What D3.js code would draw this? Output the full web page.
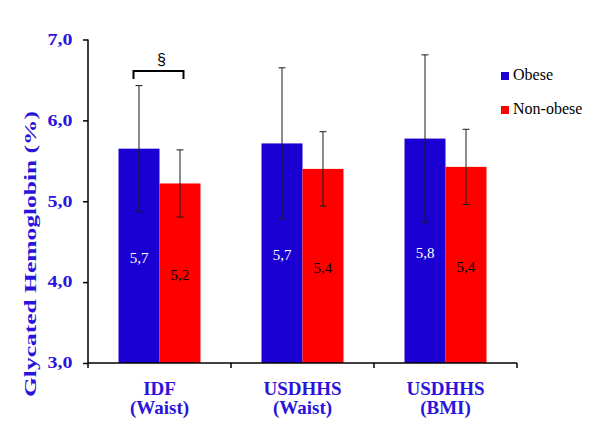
<!DOCTYPE html>
<html>
<head>
<meta charset="utf-8">
<script src="https://cdn.jsdelivr.net/npm/d3@7"></script>
<style>
  html, body { margin: 0; padding: 0; background: #fff; }
  svg { display: block; }
</style>
</head>
<body>
<div id="chart"></div>
<script>
// ---- data ----
const categories = [["IDF", "(Waist)"], ["USDHHS", "(Waist)"], ["USDHHS", "(BMI)"]];
const seriesNames = ["Obese", "Non-obese"];
const obeseMeans = [5.65, 5.715, 5.775];
const obeseSD = [0.78, 0.935, 1.035];
const nonObeseMeans = [5.22, 5.40, 5.425];
const nonObeseSD = [0.415, 0.46, 0.465];
const obeseLabels = ["5,7", "5,7", "5,8"];
const nonObeseLabels = ["5,2", "5,4", "5,4"];
const yTicks = [3, 4, 5, 6, 7];
const yTickLabels = ["3,0", "4,0", "5,0", "6,0", "7,0"];
const yTitle = "Glycated Hemoglobin (%)";
const bracketText = "§";

const W = 600, H = 435;
const blue = "#1a00d2", red = "#ff0000", textBlue = "#2a14dc";
const serif = "'Liberation Serif', 'Times New Roman', serif";

const svg = d3.select("#chart").append("svg").attr("width", W).attr("height", H);

const catKeys = categories.map(c => c.join(" "));
const x0 = d3.scaleBand().domain(catKeys).range([88, 517]).padding(0);
const x1 = d3.scaleBand().domain(seriesNames).range([0, x0.bandwidth()]).paddingInner(0).paddingOuter(0.744);
const y = d3.scaleLinear().domain([3, 7]).range([363, 39.5]);

const rows = catKeys.map((k, i) => ({
  key: k,
  vals: [
    { s: "Obese", m: obeseMeans[i], sd: obeseSD[i], lab: obeseLabels[i], color: blue, tcolor: "#ffffff" },
    { s: "Non-obese", m: nonObeseMeans[i], sd: nonObeseSD[i], lab: nonObeseLabels[i], color: red, tcolor: "#000000" }
  ]
}));

// bars
const g = svg.append("g");
const grp = g.selectAll("g.cat").data(rows).join("g").attr("class", "cat")
  .attr("transform", d => `translate(${x0(d.key)},0)`);

grp.selectAll("rect").data(d => d.vals).join("rect")
  .attr("x", d => x1(d.s))
  .attr("y", d => y(d.m))
  .attr("width", x1.bandwidth())
  .attr("height", d => y(3) - y(d.m))
  .attr("fill", d => d.color);

// value labels
grp.selectAll("text.val").data(d => d.vals).join("text").attr("class", "val")
  .attr("x", d => x1(d.s) + x1.bandwidth() / 2)
  .attr("y", d => (y(d.m) + y(3)) / 2 + 7)
  .attr("text-anchor", "middle")
  .attr("font-family", serif)
  .attr("font-size", 15)
  .attr("fill", d => d.tcolor)
  .text(d => d.lab);

// error bars
const eb = grp.selectAll("g.err").data(d => d.vals).join("g").attr("class", "err")
  .attr("stroke", "#1a1a1a").attr("stroke-width", 1);
eb.append("line")
  .attr("x1", d => x1(d.s) + x1.bandwidth() / 2).attr("x2", d => x1(d.s) + x1.bandwidth() / 2)
  .attr("y1", d => y(d.m + d.sd)).attr("y2", d => y(d.m - d.sd));
eb.append("line")
  .attr("x1", d => x1(d.s) + x1.bandwidth() / 2 - 3.5).attr("x2", d => x1(d.s) + x1.bandwidth() / 2 + 3.5)
  .attr("y1", d => y(d.m + d.sd)).attr("y2", d => y(d.m + d.sd));
eb.append("line")
  .attr("x1", d => x1(d.s) + x1.bandwidth() / 2 - 3.5).attr("x2", d => x1(d.s) + x1.bandwidth() / 2 + 3.5)
  .attr("y1", d => y(d.m - d.sd)).attr("y2", d => y(d.m - d.sd));

// y axis
const yAxis = svg.append("g").attr("transform", "translate(88,0)")
  .call(d3.axisLeft(y).tickValues(yTicks).tickSize(5).tickFormat((d, i) => yTickLabels[i]));
yAxis.select(".domain").attr("stroke", "#000").attr("stroke-width", 1.5).attr("d", `M0,${y(7)}V${y(3)}`);
yAxis.selectAll(".tick line").attr("stroke", "#000").attr("stroke-width", 1.5);
yAxis.selectAll(".tick text")
  .attr("x", -15.5).attr("dy", "0.3em")
  .attr("font-family", serif).attr("font-size", 16).attr("font-weight", "bold")
  .attr("fill", textBlue)
  .attr("textLength", 25).attr("lengthAdjust", "spacingAndGlyphs");

// x axis
const xAxis = svg.append("g").attr("transform", `translate(0,${y(3)})`);
xAxis.append("line").attr("x1", 88).attr("x2", 517).attr("y1", 0).attr("y2", 0)
  .attr("stroke", "#000").attr("stroke-width", 1.5);
const xTickPos = catKeys.map(k => x0(k)).concat([x0(catKeys[catKeys.length - 1]) + x0.bandwidth()]);
xAxis.selectAll("line.xt").data(xTickPos).join("line").attr("class", "xt")
  .attr("x1", d => d).attr("x2", d => d).attr("y1", 0).attr("y2", 5)
  .attr("stroke", "#000").attr("stroke-width", 1.5);

const xl = svg.append("g").selectAll("text").data(categories).join("text")
  .attr("x", (d, i) => x0(catKeys[i]) + x0.bandwidth() / 2)
  .attr("text-anchor", "middle")
  .attr("font-family", serif).attr("font-size", 19).attr("font-weight", "bold")
  .attr("fill", textBlue);
xl.append("tspan").attr("x", (d, i) => x0(catKeys[i]) + x0.bandwidth() / 2).attr("y", 395).text(d => d[0]);
xl.append("tspan").attr("x", (d, i) => x0(catKeys[i]) + x0.bandwidth() / 2).attr("y", 414).text(d => d[1]);

// y title (glyphs stretched along the text direction, as in the reference)
svg.append("text")
  .attr("transform", "translate(36,254) rotate(-90) scale(1.5,1)")
  .attr("text-anchor", "middle")
  .attr("font-family", serif).attr("font-size", 17).attr("font-weight", "bold")
  .attr("fill", textBlue)
  .text(yTitle);

// significance bracket (between IDF bars)
const c0 = x0(catKeys[0]);
const bx1 = c0 + x1("Obese") + x1.bandwidth() / 2 - 5.5;
const bx2 = c0 + x1("Non-obese") + x1.bandwidth() / 2 + 3.5;
const byTop = y(obeseMeans[0] + obeseSD[0]) - 14.5;
svg.append("path")
  .attr("d", `M${bx1},${byTop + 8}V${byTop}H${bx2}V${byTop + 8}`)
  .attr("fill", "none").attr("stroke", "#000").attr("stroke-width", 2);
svg.append("text")
  .attr("x", (bx1 + bx2) / 2 + 3).attr("y", byTop - 6)
  .attr("text-anchor", "middle")
  .attr("font-family", "'Liberation Sans', Arial, sans-serif").attr("font-size", 16)
  .attr("fill", "#000").text(bracketText);

// legend
const leg = svg.append("g").selectAll("g").data(seriesNames).join("g")
  .attr("transform", (d, i) => `translate(501,${72 + i * 34})`);
leg.append("rect").attr("width", 8).attr("height", 8)
  .attr("fill", (d, i) => i === 0 ? blue : red);
leg.append("text").attr("x", 12).attr("y", 8)
  .attr("font-family", serif).attr("font-size", 16).attr("fill", "#000")
  .text(d => d);
</script>
</body>
</html>
